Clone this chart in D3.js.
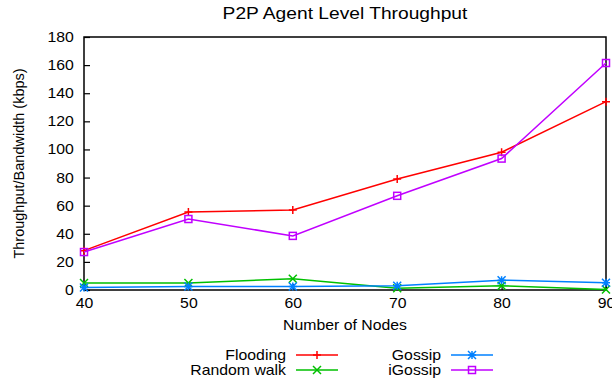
<!DOCTYPE html>
<html>
<head>
<meta charset="utf-8">
<script src="https://cdn.jsdelivr.net/npm/d3@7"></script>
<style>
  body { margin: 0; background: #fff; }
  text { font-family: "Liberation Sans", Arial, sans-serif; fill: #000; }
</style>
</head>
<body>
<svg id="chart" width="612" height="381"></svg>
<script>
// data
const nodes = [40, 50, 60, 70, 80, 90];
const flooding = [28, 55.5, 57, 79, 98, 134];
const randomWalk = [5, 5, 8, 1.2, 3, 0.4];
const gossip = [1.8, 2.5, 2.5, 3, 7, 5.2];
const iGossip = [27, 50.5, 38.5, 67, 93.5, 161.5];
const yTicks = [0, 20, 40, 60, 80, 100, 120, 140, 160, 180];

const series = [
    { name: "Flooding", values: flooding, color: "#ff0000", marker: "plus" },
    { name: "Random walk", values: randomWalk, color: "#00c000", marker: "cross" },
    { name: "Gossip", values: gossip, color: "#0080ff", marker: "star" },
    { name: "iGossip", values: iGossip, color: "#c000ff", marker: "square" }
];

const margin = { top: 37, right: 6, bottom: 91, left: 84 };
const width = 612 - margin.left - margin.right;
const height = 381 - margin.top - margin.bottom;
const stretch = 1.13; // text in the original looks a bit wide

const svg = d3.select("#chart");
const g = svg.append("g").attr("transform", `translate(${margin.left},${margin.top})`);

const x = d3.scaleLinear().domain([40, 90]).range([0, width]);
const y = d3.scaleLinear().domain([0, 180]).range([height, 0]);

// axes with inward ticks
const xAxis = g.append("g").attr("transform", `translate(0,${height})`)
    .call(d3.axisBottom(x).tickValues(nodes).tickSizeInner(-6).tickSizeOuter(0).tickPadding(10));
const yAxis = g.append("g")
    .call(d3.axisLeft(y).tickValues(yTicks).tickSizeInner(-6).tickSizeOuter(0).tickPadding(9));
[xAxis, yAxis].forEach(a => {
    a.select(".domain").remove();
    a.selectAll("line").attr("stroke", "#000").attr("stroke-width", 1.2);
    a.selectAll("text").style("font-size", "14px").attr("fill", "#000")
        .attr("transform", `scale(${stretch},1)`);
});
xAxis.selectAll("text").attr("dy", "0.55em");

// plot border
g.append("rect")
    .attr("width", width).attr("height", height)
    .attr("fill", "none").attr("stroke", "#000").attr("stroke-width", 1.5);

const line = d3.line().x((d, i) => x(nodes[i])).y(d => y(d));

function drawMarker(sel, type, color) {
    const s = 4;
    if (type === "plus") {
        sel.append("path").attr("d", `M${-s},0H${s}M0,${-s}V${s}`);
    } else if (type === "cross") {
        sel.append("path").attr("d", `M${-s},${-s}L${s},${s}M${-s},${s}L${s},${-s}`);
    } else if (type === "star") {
        sel.append("path").attr("d", `M${-s},0H${s}M0,${-s}V${s}M${-s},${-s}L${s},${s}M${-s},${s}L${s},${-s}`);
    } else {
        sel.append("rect").attr("x", -3.5).attr("y", -3.5).attr("width", 7).attr("height", 7);
    }
    sel.selectAll("path, rect").attr("stroke", color).attr("stroke-width", 1.5).attr("fill", "none");
}

const plot = g.append("g");
series.forEach(s => {
    plot.append("path")
        .datum(s.values)
        .attr("d", line)
        .attr("fill", "none")
        .attr("stroke", s.color)
        .attr("stroke-width", 1.5);
    s.values.forEach((v, i) => {
        const m = plot.append("g").attr("transform", `translate(${x(nodes[i])},${y(v)})`);
        drawMarker(m, s.marker, s.color);
    });
});

// title and axis labels
svg.append("text").attr("transform", `translate(345,19) scale(${stretch},1)`)
    .attr("text-anchor", "middle").style("font-size", "17px").text("P2P Agent Level Throughput");
svg.append("text").attr("transform", `translate(${margin.left + width / 2},330) scale(${stretch},1)`)
    .attr("text-anchor", "middle").style("font-size", "14px").text("Number of Nodes");
svg.append("text").attr("transform", `translate(24,${margin.top + height / 2}) rotate(-90)`)
    .attr("text-anchor", "middle").style("font-size", "14.5px").text("Throughput/Bandwidth (kbps)");

// legend, two columns
const legendPos = [[286, 355], [286, 370], [441, 355], [441, 370]];
series.forEach((s, i) => {
    const [lx, ly] = legendPos[i];
    const lg = svg.append("g").attr("transform", `translate(${lx},${ly})`);
    lg.append("text").attr("text-anchor", "end").attr("dy", "0.35em")
        .attr("transform", `scale(${stretch},1)`)
        .style("font-size", "14px").text(s.name);
    lg.append("line").attr("x1", 10).attr("x2", 52).attr("stroke", s.color).attr("stroke-width", 1.5);
    const m = lg.append("g").attr("transform", "translate(31,0)");
    drawMarker(m, s.marker, s.color);
});
</script>
</body>
</html>
